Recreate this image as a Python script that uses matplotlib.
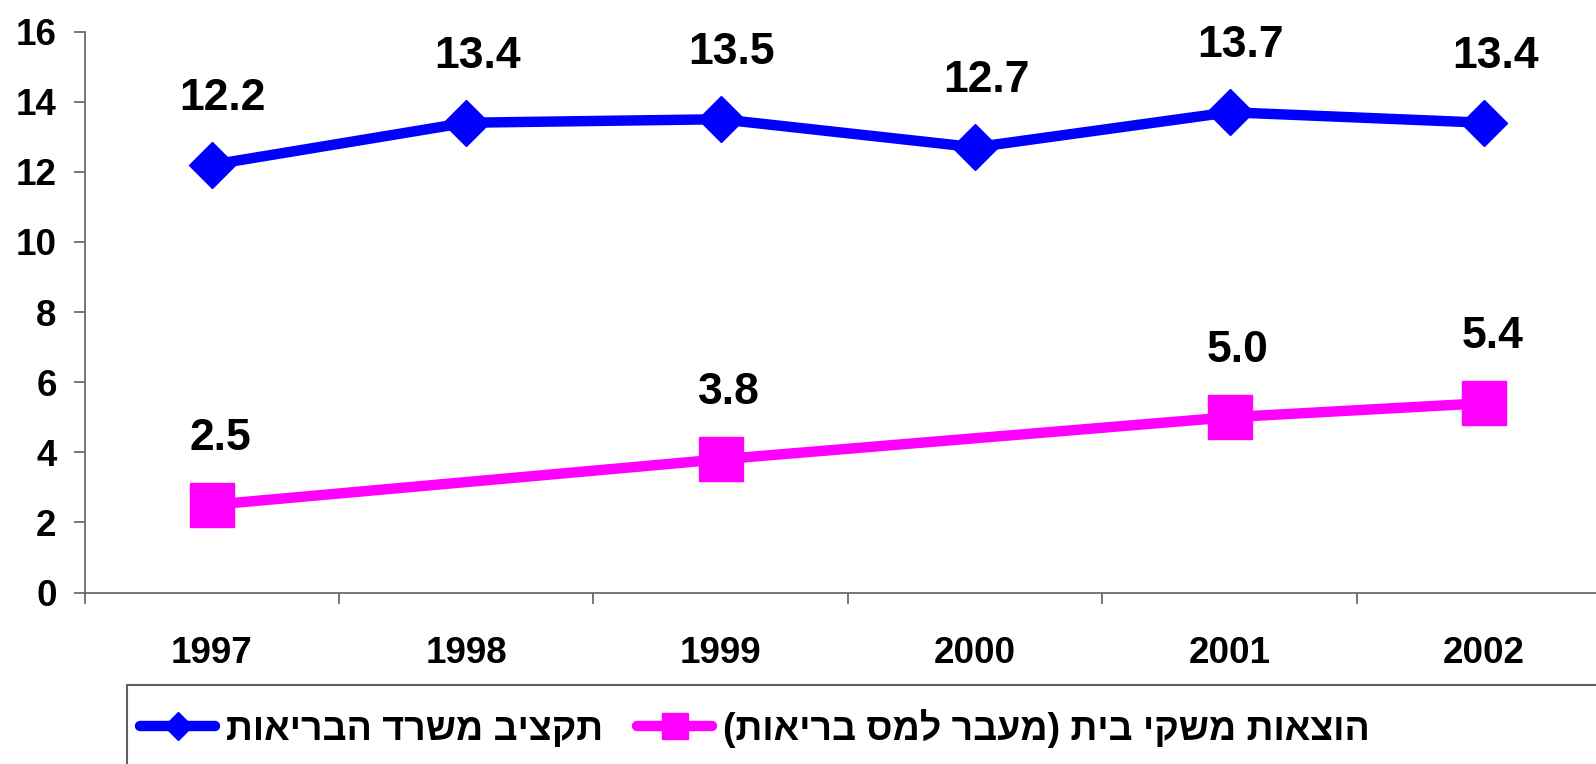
import numpy as np
import matplotlib
matplotlib.use("Agg")
import matplotlib.pyplot as plt
from matplotlib.patches import Rectangle

plt.rcParams['font.family'] = ['Liberation Sans', 'DejaVu Sans']
plt.rcParams['font.weight'] = 'bold'

years = ['1997', '1998', '1999', '2000', '2001', '2002']
budget = [12.2, 13.4, 13.5, 12.7, 13.7, 13.4]
household = [2.5, np.nan, 3.8, np.nan, 5.0, 5.4]
# Hebrew labels (reordered visually, since matplotlib has no bidi support)
label_budget = 'תקציב משרד הבריאות'
label_household = 'הוצאות משקי בית (מעבר למס בריאות)'

def visual(s):
    rev = s[::-1]
    return rev.translate(str.maketrans('()', ')('))

yticks = [0, 2, 4, 6, 8, 10, 12, 14, 16]

W, H = 1596, 764
fig = plt.figure(figsize=(W / 100, H / 100), dpi=100)
left, right = 84.5 / W, 1611.5 / W
bottom, top = 1 - 592.5 / H, 1 - 31.6 / H
ax = fig.add_axes([left, bottom, right - left, top - bottom])

blue = '#0000FF'
pink = '#FF00FF'
x = np.arange(len(years))

ax.plot(x, budget, color=blue, lw=7.5, marker='D', ms=23.5, mec=blue, mfc=blue,
        label=visual(label_budget), solid_capstyle='round', zorder=3)
hx = np.array([i for i, v in enumerate(household) if not np.isnan(v)])
hv = np.array([v for v in household if not np.isnan(v)])
ax.plot(hx, hv, color=pink, lw=7.5, marker='s', ms=31, mec=pink, mfc=pink,
        label=visual(label_household), solid_capstyle='round', zorder=3)

for xi, v in zip(x, budget):
    ax.annotate(f'{v:.1f}', (xi, v), xytext=(8, 48), textcoords='offset points',
                ha='center', va='center', fontsize=32, fontweight='bold')
for xi, v in zip(hx, hv):
    ax.annotate(f'{v:.1f}', (xi, v), xytext=(6, 48), textcoords='offset points',
                ha='center', va='center', fontsize=32, fontweight='bold')

ax.set_xlim(-0.5, len(years) - 0.5)
ax.set_ylim(0, 16)
ax.set_yticks(yticks)
ax.set_yticklabels([str(t) for t in yticks])
ax.set_xticks(x)
ax.set_xticklabels(years)
ax.set_xticks(np.arange(-0.5, len(years)), minor=True)

ax.tick_params(axis='y', length=8, width=1.2, color='#606060', pad=12,
               labelsize=26.5)
ax.tick_params(axis='x', which='major', length=0, pad=31, labelsize=26.5)
ax.tick_params(axis='x', which='minor', length=8, width=1.2, color='#606060')
for lab in ax.get_xticklabels() + ax.get_yticklabels():
    lab.set_fontweight('bold')

for s in ['top', 'right']:
    ax.spines[s].set_visible(False)
for s in ['left', 'bottom']:
    ax.spines[s].set_color('#606060')
    ax.spines[s].set_linewidth(1.2)

# legend frame extending past the figure edge
fig.patches.append(Rectangle((127 / W, -0.05), 1.0, 1 - 685 / H + 0.05,
                             transform=fig.transFigure, fill=False,
                             edgecolor='#606060', lw=1.5))
leg = fig.legend(loc='center left', bbox_to_anchor=(140 / W, 1 - 728 / H),
                 ncol=2, frameon=False, fontsize=27, handlelength=2.0,
                 handletextpad=0.3, columnspacing=0.9, borderaxespad=0,
                 borderpad=0, markerscale=0.6)
for t in leg.get_texts():
    t.set_fontweight('bold')

fig.savefig('out.png', dpi=100)
